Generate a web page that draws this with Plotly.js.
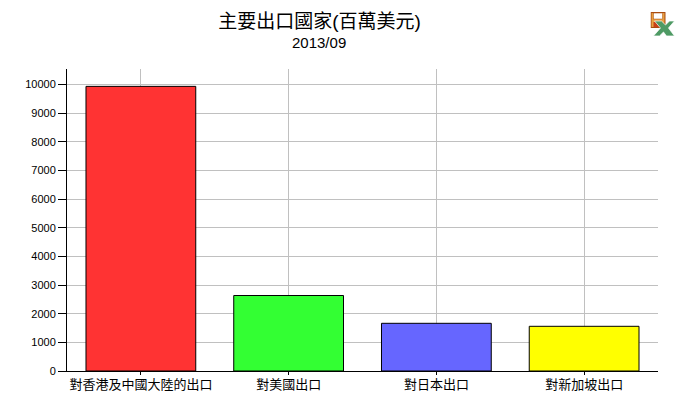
<!DOCTYPE html>
<html><head><meta charset="utf-8">
<script src="https://cdn.plot.ly/plotly-3.0.1.min.js"></script>
<style>html,body{margin:0;padding:0;background:#fff}#c{width:684px;height:401px}</style>
</head><body><div id="c"></div>
<script>
const categories = ['對香港及中國大陸的出口','對美國出口','對日本出口','對新加坡出口'];
const values = [9935, 2635, 1665, 1560];
const colors = ['#FF3333','#33FF33','#6666FF','#FFFF00'];
const yTicks = [0,1000,2000,3000,4000,5000,6000,7000,8000,9000,10000];
const chartTitle = '主要出口國家(百萬美元)';
const chartSubtitle = '2013/09';
const fontStack = '"Liberation Sans","Noto Sans CJK TC",sans-serif';
const icon = 'data:image/svg+xml;utf8,' + encodeURIComponent(
 '<svg xmlns="http://www.w3.org/2000/svg" width="24" height="24" viewBox="0 0 24 24">'+
 '<rect x="0.5" y="0.5" width="14" height="15" fill="#e8a040" stroke="#a84a10"/>'+
 '<rect x="3" y="1" width="9" height="6" fill="#fff" stroke="#a84a10" stroke-width="0.5"/>'+
 '<rect x="3" y="10" width="9" height="5" fill="#c8401a"/>'+
 '<path d="M4 9 L11 9 L15 13 L19 9 L24 9 L18 16 L24 24 L16 24 L13 20 L9 24 L3 24 L10 16 Z" fill="#4e9a64" stroke="#fff" stroke-width="0.7"/>'+
 '</svg>');
const L=66.5,R=25.5,T=69,B=30,W=684,H=401;
Plotly.newPlot('c',[{
  type:'bar',x:categories,y:values,width:0.743,
  marker:{color:colors,line:{color:'#000',width:1}},
  hoverinfo:'x+y'
}],{
  width:W,height:H,showlegend:false,
  paper_bgcolor:'#fff',plot_bgcolor:'#fff',
  margin:{l:L,r:R,t:T,b:B,pad:0},
  font:{family:fontStack,color:'#000'},
  title:{text:chartTitle,font:{size:19,family:fontStack,color:'#000'},
    x:319.5/W,xanchor:'center',xref:'container',y:1-21/H,yanchor:'middle',yref:'container'},
  annotations:[{text:chartSubtitle,xref:'paper',yref:'paper',x:(319-L)/(W-L-R),y:(H-B-42)/(H-T-B),xanchor:'center',yanchor:'middle',showarrow:false,font:{size:15,family:fontStack,color:'#000'}}],
  xaxis:{type:'category',range:[-0.5,3.5],showgrid:true,gridcolor:'#c0c0c0',gridwidth:1,
    showline:true,linecolor:'#000',linewidth:1,ticks:'outside',ticklen:3,tickcolor:'#000',tickwidth:1,
    tickfont:{size:13,family:fontStack,color:'#000'},tickangle:0,automargin:false,fixedrange:true,ticklabelstandoff:-2},
  yaxis:{range:[0,10541],tickmode:'array',tickvals:yTicks,ticktext:yTicks.map(String),showgrid:true,gridcolor:'#c0c0c0',gridwidth:1,
    zeroline:false,showline:true,linecolor:'#000',linewidth:1,ticks:'outside',ticklen:8,tickcolor:'#000',tickwidth:1,
    tickfont:{size:11,family:fontStack,color:'#000'},automargin:false,fixedrange:true},
  images:[{source:icon,xref:'paper',yref:'paper',x:(651-L)/(W-L-R),y:(H-B-12)/(H-T-B),sizex:24/(W-L-R),sizey:24/(H-T-B),xanchor:'left',yanchor:'top',layer:'above'}]
},{displayModeBar:false,staticPlot:true});
</script></body></html>
